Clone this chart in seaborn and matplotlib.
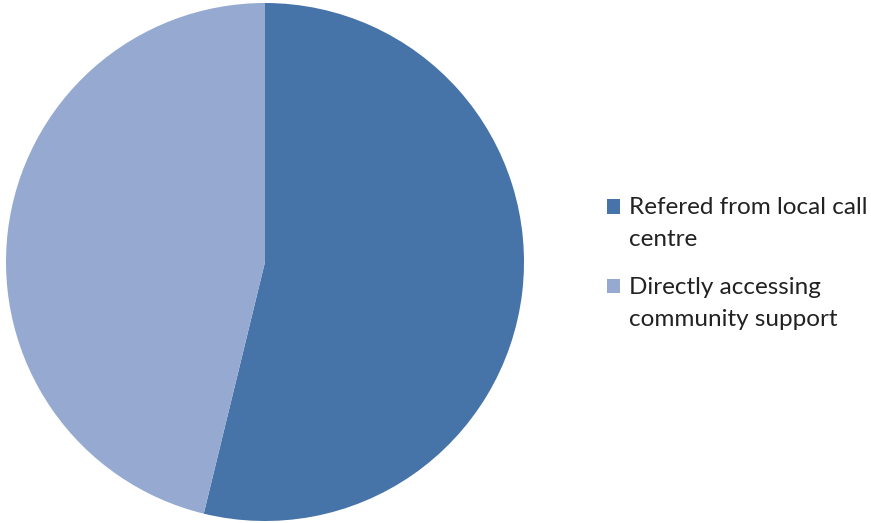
import matplotlib
matplotlib.use("Agg")
import matplotlib.pyplot as plt
import seaborn as sns
from matplotlib.patches import Patch, Rectangle
from matplotlib.legend_handler import HandlerPatch

categories = ["Refered from local call\ncentre", "Directly accessing\ncommunity support"]
values = [53.8, 46.2]
colors = ["#4673A8", "#95A9D1"]

sns.set_theme(style="white")
plt.rcParams['font.family'] = ['Lato', 'DejaVu Sans']

W, H = 871, 523
fig = plt.figure(figsize=(W / 100, H / 100), dpi=100)
cx, cy, r = 265, 262, 259
ax = fig.add_axes([(cx - r) / W, (H - cy - r) / H, 2 * r / W, 2 * r / H])
ax.pie(values, colors=colors, startangle=90, counterclock=False, radius=1,
       wedgeprops=dict(linewidth=0))
ax.set_xlim(-1, 1)
ax.set_ylim(-1, 1)
ax.set_aspect('equal')
ax.axis('off')

FS = 17.5
LS = 1.65
shift = 0.5 * FS * LS * 0.86


def top_square(legend, orig_handle, xdescent, ydescent, width, height, fontsize):
    return Rectangle((-xdescent, -ydescent + shift), width, height)


handles = [Patch(facecolor=c, edgecolor='none') for c in colors]
leg = fig.legend(handles, categories, loc='upper left', bbox_to_anchor=(607 / W, 1 - 197 / H),
                 frameon=False, fontsize=FS, handlelength=0.55, handleheight=0.55,
                 handletextpad=0.35, labelspacing=1.1, borderpad=0, borderaxespad=0,
                 labelcolor='#222222',
                 handler_map={Patch: HandlerPatch(patch_func=top_square)})
for t in leg.get_texts():
    t.set_linespacing(LS)

fig.savefig("out.png", dpi=100)
